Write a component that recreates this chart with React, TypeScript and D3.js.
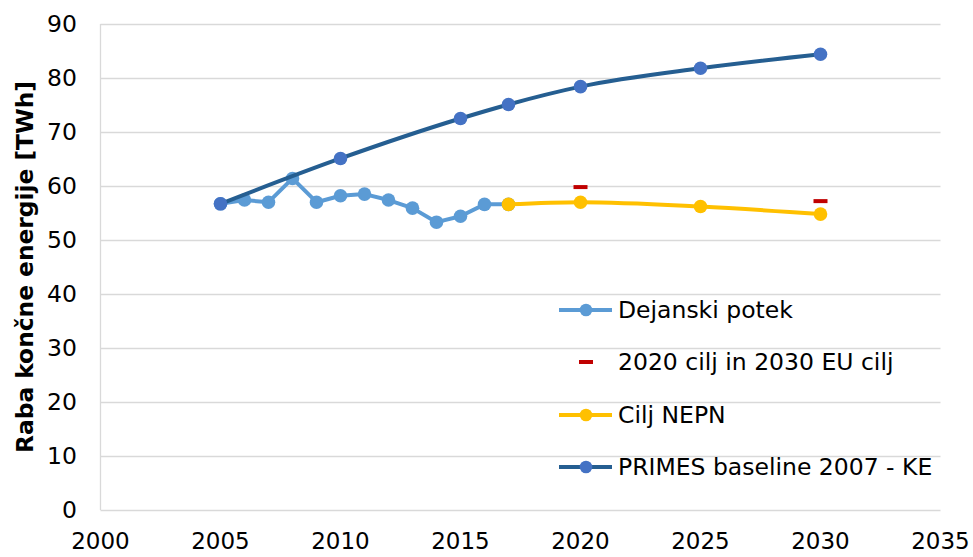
import React from "react";
import * as d3 from "d3";

const actualYears = [2005, 2006, 2007, 2008, 2009, 2010, 2011, 2012, 2013, 2014, 2015, 2016, 2017];
const actualValues = [56.7, 57.4, 57.0, 61.4, 57.0, 58.2, 58.5, 57.4, 55.9, 53.3, 54.4, 56.6, 56.6];

const targetYears = [2020, 2030];
const targetValues = [59.8, 57.2];

const nepnYears = [2017, 2020, 2025, 2030];
const nepnValues = [56.6, 57.0, 56.2, 54.8];

const primesYears = [2005, 2010, 2015, 2017, 2020, 2025, 2030];
const primesValues = [56.7, 65.1, 72.5, 75.1, 78.4, 81.8, 84.4];

const xTicks = [2000, 2005, 2010, 2015, 2020, 2025, 2030, 2035];
const yTicks = [0, 10, 20, 30, 40, 50, 60, 70, 80, 90];

const legendLabels = [
  "Dejanski potek",
  "2020 cilj in 2030 EU cilj",
  "Cilj NEPN",
  "PRIMES baseline 2007 - KE",
];

const W = 973;
const H = 557;
const FONT = "'DejaVu Sans', Verdana, sans-serif";

export default function App() {
  const x = d3.scaleLinear().domain([2000, 2035]).range([100.5, 940.5]);
  const y = d3.scaleLinear().domain([0, 90]).range([510, 24]);

  const straight = d3
    .line<[number, number]>()
    .x((d) => x(d[0]))
    .y((d) => y(d[1]));
  const smooth = d3
    .line<[number, number]>()
    .x((d) => x(d[0]))
    .y((d) => y(d[1]))
    .curve(d3.curveMonotoneX);

  const actual: [number, number][] = actualYears.map((yr, i) => [yr, actualValues[i]]);
  const nepn: [number, number][] = nepnYears.map((yr, i) => [yr, nepnValues[i]]);
  const primes: [number, number][] = primesYears.map((yr, i) => [yr, primesValues[i]]);

  const cLight = "#5B9BD5";
  const cYellow = "#FFC000";
  const cDarkLine = "#255E91";
  const cDarkMarker = "#4472C4";
  const cRed = "#C00000";
  const grid = "#D9D9D9";

  const legX0 = 559;
  const legX1 = 612;
  const legMid = 586;
  const legText = 618;
  const legY = [310, 362, 415, 467];

  return (
    <svg
      width={W}
      height={H}
      style={{ position: "absolute", left: 0, top: 0, background: "#fff" }}
      fontFamily={FONT}
    >
      <rect x={0} y={0} width={W} height={H} fill="#fff" />
      {/* gridlines */}
      {yTicks.map((t) => (
        <line
          key={"g" + t}
          x1={x(2000)}
          x2={x(2035)}
          y1={Math.round(y(t)) + 0.5}
          y2={Math.round(y(t)) + 0.5}
          stroke={grid}
          strokeWidth={1.3}
        />
      ))}
      <line x1={x(2000)} x2={x(2000)} y1={y(0)} y2={y(90)} stroke={grid} strokeWidth={1.3} />

      {/* y tick labels */}
      {yTicks.map((t) => (
        <text
          key={"yl" + t}
          x={77}
          y={y(t)}
          dy="0.36em"
          textAnchor="end"
          fontSize={23.5}
          fill="#000"
        >
          {t}
        </text>
      ))}
      {/* x tick labels */}
      {xTicks.map((t) => (
        <text key={"xl" + t} x={x(t)} y={549} textAnchor="middle" fontSize={23} fill="#000">
          {t}
        </text>
      ))}

      {/* y axis title */}
      <text
        transform={`translate(33, 267) rotate(-90)`}
        textAnchor="middle"
        fontSize={23}
        fontWeight="bold"
        fill="#000"
        textLength={372}
        lengthAdjust="spacingAndGlyphs"
      >
        Raba končne energije [TWh]
      </text>

      {/* Dejanski potek */}
      <path d={straight(actual) || ""} fill="none" stroke={cLight} strokeWidth={4} strokeLinejoin="round" />
      {actual.map((d, i) => (
        <circle key={"a" + i} cx={x(d[0])} cy={y(d[1])} r={6.8} fill={cLight} />
      ))}

      {/* Targets */}
      {targetYears.map((yr, i) => (
        <rect
          key={"t" + i}
          x={x(yr) - 7}
          y={y(targetValues[i]) - 2}
          width={14}
          height={4}
          fill={cRed}
        />
      ))}

      {/* NEPN */}
      <path d={smooth(nepn) || ""} fill="none" stroke={cYellow} strokeWidth={4} strokeLinejoin="round" />
      {nepn.map((d, i) => (
        <circle key={"n" + i} cx={x(d[0])} cy={y(d[1])} r={6.8} fill={cYellow} />
      ))}

      {/* PRIMES */}
      <path d={smooth(primes) || ""} fill="none" stroke={cDarkLine} strokeWidth={4} strokeLinejoin="round" />
      {primes.map((d, i) => (
        <circle key={"p" + i} cx={x(d[0])} cy={y(d[1])} r={6.8} fill={cDarkMarker} />
      ))}

      {/* legend */}
      <line x1={legX0} x2={legX1} y1={legY[0]} y2={legY[0]} stroke={cLight} strokeWidth={4} />
      <circle cx={legMid} cy={legY[0]} r={6.3} fill={cLight} />
      <rect x={legMid - 7} y={legY[1] - 2} width={14} height={4} fill={cRed} />
      <line x1={legX0} x2={legX1} y1={legY[2]} y2={legY[2]} stroke={cYellow} strokeWidth={4} />
      <circle cx={legMid} cy={legY[2]} r={6.3} fill={cYellow} />
      <line x1={legX0} x2={legX1} y1={legY[3]} y2={legY[3]} stroke={cDarkLine} strokeWidth={4} />
      <circle cx={legMid} cy={legY[3]} r={6.3} fill={cDarkMarker} />
      {legendLabels.map((l, i) => (
        <text key={"lg" + i} x={legText} y={legY[i]} dy="0.36em" fontSize={23.5} fill="#000">
          {l}
        </text>
      ))}
    </svg>
  );
}
